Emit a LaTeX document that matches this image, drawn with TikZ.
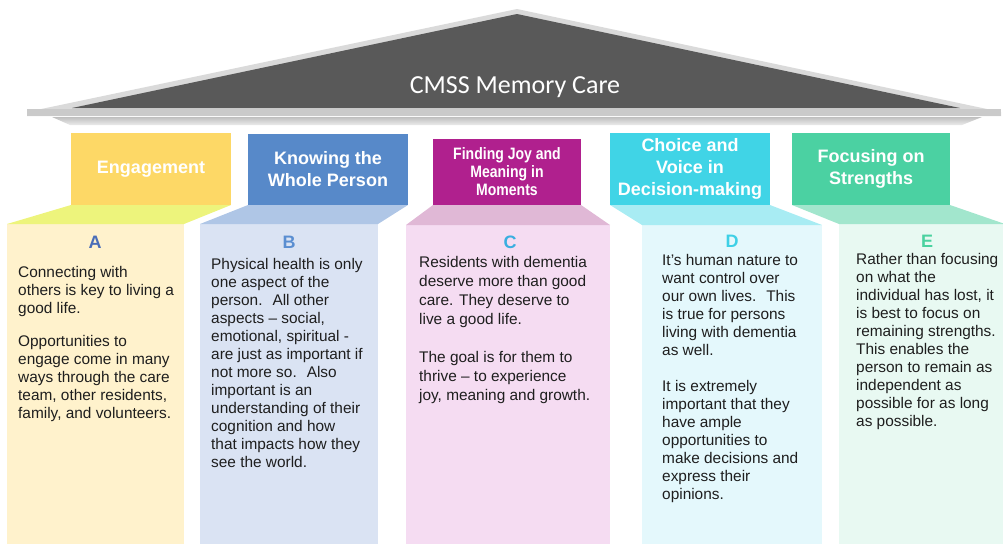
\documentclass[tikz,border=0pt]{standalone}
\usepackage{fontspec}
\setmainfont{Liberation Sans}
\newfontfamily\roofFont{Carlito}
\newfontfamily\narrowFont[FakeStretch=0.85]{Liberation Sans}

\definecolor{roofDark}{HTML}{595959}
\definecolor{roofEdge}{HTML}{DADADA}
\definecolor{roofBase}{HTML}{CACACA}
\definecolor{inkText}{HTML}{1E1E1E}
% pillar colours: header, ledge, body, letter
\definecolor{hdrA}{HTML}{FDD866}
\definecolor{ledA}{HTML}{EDF47C}
\definecolor{bodA}{HTML}{FFF2CC}
\definecolor{letA}{HTML}{4A6EB8}
\definecolor{hdrB}{HTML}{5789C9}
\definecolor{ledB}{HTML}{AFC6E6}
\definecolor{bodB}{HTML}{DAE3F3}
\definecolor{letB}{HTML}{5A8ED1}
\definecolor{hdrC}{HTML}{B0208E}
\definecolor{ledC}{HTML}{E0B8D6}
\definecolor{bodC}{HTML}{F5DCF2}
\definecolor{letC}{HTML}{3AAEE0}
\definecolor{hdrD}{HTML}{40D4E6}
\definecolor{ledD}{HTML}{A8ECF3}
\definecolor{bodD}{HTML}{E4F8FC}
\definecolor{letD}{HTML}{3ED0E6}
\definecolor{hdrE}{HTML}{4BD1A2}
\definecolor{ledE}{HTML}{A2E6CD}
\definecolor{bodE}{HTML}{E8F9F2}
\definecolor{letE}{HTML}{4AD2A0}

\tikzset{
  header/.style={inner sep=0pt, text=white, align=center,
    font=\bfseries\fontsize{18}{22}\selectfont},
  letter/.style={inner sep=0pt, font=\bfseries\fontsize{18}{20}\selectfont},
  bodytext/.style={inner sep=0pt, anchor=north west, align=left, text=inkText}
}

\begin{document}
\begin{tikzpicture}[x=1pt,y=-1pt]
   \useasboundingbox (0,0) rectangle (1003,544);

   % roof
   \fill[roofEdge] (517,9) -- (1001,112) -- (1001,116) -- (27,116) -- (27,112) -- cycle;
   \fill[roofBase] (27,109) -- (1001,109) -- (1001,116) -- (27,116) -- cycle;
   \fill[roofDark] (517,14) -- (960,108) -- (72,108) -- cycle;
   \shade[top color=black!25, bottom color=black!8] (52,117) -- (982,117) -- (962,125) -- (70,125) -- cycle;
   \node[text=white, anchor=base, font=\roofFont\fontsize{26}{30}\selectfont] (roofTitle) at (515,93) {CMSS Memory Care};

   % pillar bodies
   \fill[bodA] (7,224) rectangle (184,544);
   \fill[bodB] (200,224) rectangle (378,544);
   \fill[bodC] (406,225) rectangle (610,544);
   \fill[bodD] (642,225) rectangle (822,544);
   \fill[bodE] (839,224) rectangle (1003,544);

   % ledges under the headers
   \fill[ledA] (71,205) -- (231,205) -- (184,224) -- (7,224) -- cycle;
   \fill[ledB] (248,205) -- (408,205) -- (378,224) -- (200,224) -- cycle;
   \fill[ledC] (433,205) -- (581,205) -- (610,225) -- (406,225) -- cycle;
   \fill[ledD] (610,205) -- (770,205) -- (822,225) -- (642,225) -- cycle;
   \fill[ledE] (792,205) -- (950,205) -- (1005,224) -- (839,224) -- cycle;

   % headers
   \node[header, fill=hdrA, minimum width=160, minimum height=72] (hA) at (151,169) {Engagement};
   \node[header, fill=hdrB, minimum width=160, minimum height=71] (hB) at (328,169.5) {Knowing the\\Whole Person};
   \node[header, fill=hdrC, minimum width=148, minimum height=66,
         font=\narrowFont\bfseries\fontsize{16.5}{18}\selectfont] (hC) at (507,172) {Finding Joy and\\Meaning in\\Moments};
   \node[header, fill=hdrD, minimum width=160, minimum height=72] (hD) at (690,169) {Choice and\\Voice in\\Decision-making};
   \node[header, fill=hdrE, minimum width=158, minimum height=72] (hE) at (871,169) {Focusing on\\Strengths};

   % letters
   \node[letter, text=letA] (lA) at (95,242) {A};
   \node[letter, text=letB] (lB) at (289,242) {B};
   \node[letter, text=letC] (lC) at (510,242) {C};
   \node[letter, text=letD] (lD) at (732,241) {D};
   \node[letter, text=letE] (lE) at (927,241) {E};

   % texts
   \node[bodytext, font=\fontsize{15.4}{18}\selectfont] (tA) at (18,266)
     {Connecting with\\others is key to living a\\good life.\\[15pt]Opportunities to\\engage come in many\\ways through the care\\team, other residents,\\family, and volunteers.};
   \node[bodytext, font=\fontsize{15.4}{18}\selectfont] (tB) at (211,258)
     {Physical health is only\\one aspect of the\\person.~ All other\\aspects – social,\\emotional, spiritual -\\are just as important if\\not more so.~ Also\\important is an\\understanding of their\\cognition and how\\that impacts how they\\see the world.};
   \node[bodytext, font=\fontsize{15.4}{19}\selectfont] (tC) at (419,256)
     {Residents with dementia\\deserve more than good\\care. They deserve to\\live a good life.\\[19pt]The goal is for them to\\thrive – to experience\\joy, meaning and growth.};
   \node[bodytext, font=\fontsize{15.4}{18}\selectfont] (tD) at (662,254)
     {It’s human nature to\\want control over\\our own lives.~ This\\is true for persons\\living with dementia\\as well.\\[18pt]It is extremely\\important that they\\have ample\\opportunities to\\make decisions and\\express their\\opinions.};
   \node[bodytext, font=\fontsize{15.4}{18}\selectfont] (tE) at (856,253)
     {Rather than focusing\\on what the\\individual has lost, it\\is best to focus on\\remaining strengths.\\This enables the\\person to remain as\\independent as\\possible for as long\\as possible.};

 \end{tikzpicture}
\end{document}
